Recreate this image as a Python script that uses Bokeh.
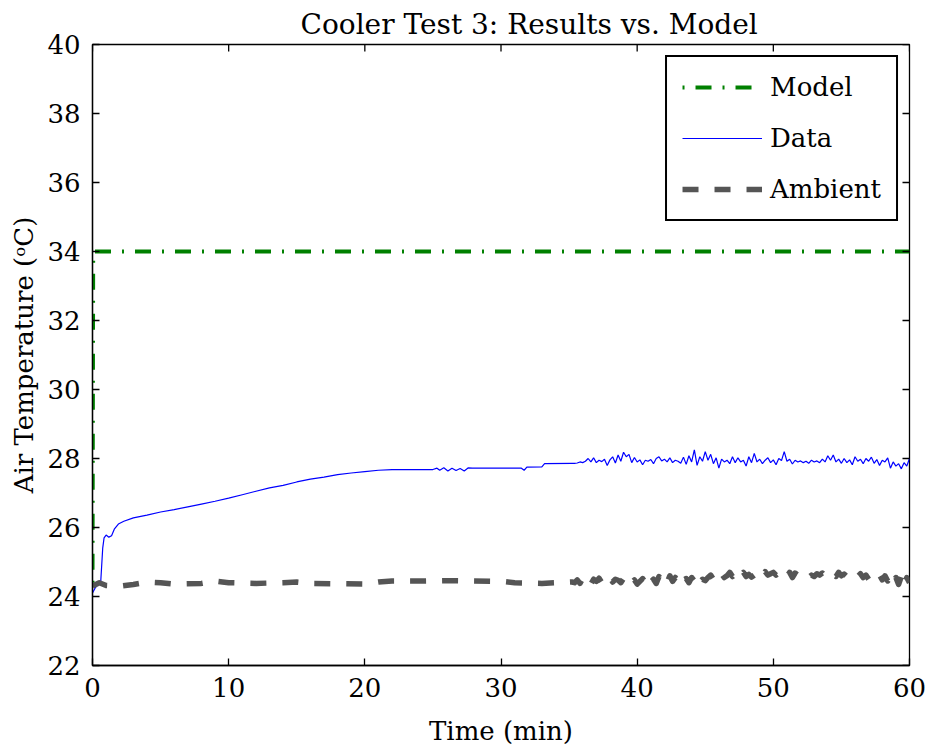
import numpy as np
from bokeh.plotting import figure
from bokeh.models import Range1d, FixedTicker, Legend, LegendItem
from bokeh.embed import file_html
from bokeh.resources import INLINE

# ---------------- data ----------------
title_text = "Cooler Test 3: Results vs. Model"
x_label = "Time (min)"
y_label = "Air Temperature (\u1d52C)"
x_ticks = [0, 10, 20, 30, 40, 50, 60]
y_ticks = [22, 24, 26, 28, 30, 32, 34, 36, 38, 40]

model_t = [0.0, 0.05, 60.0]
model_v = [24.4, 34.0, 34.0]

data_t_smooth = [0.0, 0.2, 0.4, 0.6, 0.75, 0.85, 1.0, 1.2, 1.4, 1.6, 1.9, 2.3, 3.0,
                 4.0, 5.0, 6.0, 7.0, 8.0, 9.0, 10.0, 11.0, 12.0, 13.0, 14.0, 15.0,
                 16.0, 17.0, 18.0, 19.0, 20.0, 21.0, 22.0, 25.0, 25.3, 25.5, 25.8,
                 26.1, 26.4, 26.7, 27.0, 27.3, 27.6, 27.9, 31.5, 31.7, 31.9, 33.0,
                 33.2, 35.2]
data_v_smooth = [24.10, 24.25, 24.35, 24.40, 25.40, 25.70, 25.78, 25.72, 25.76, 25.95,
                 26.10, 26.18, 26.28, 26.36, 26.45, 26.52, 26.60, 26.68, 26.76, 26.85,
                 26.95, 27.05, 27.15, 27.22, 27.32, 27.40, 27.46, 27.53, 27.58, 27.62,
                 27.66, 27.68, 27.68, 27.72, 27.66, 27.73, 27.64, 27.72, 27.65, 27.71,
                 27.64, 27.73, 27.72, 27.72, 27.66, 27.75, 27.76, 27.85, 27.86]

# noisy part sampled every 0.2 min from 35.4 to 60.0
data_v_noisy = [27.86, 27.87, 27.90, 27.88, 27.92, 28.00, 27.90, 28.02, 27.88, 27.95,
                27.91, 27.98, 27.80, 27.96, 28.05, 27.87, 28.10, 27.92, 28.18, 28.05,
                28.12, 27.88, 28.03, 27.90, 27.96, 27.82, 27.95, 27.92, 27.97, 27.85,
                28.00, 28.05, 27.93, 27.98, 27.90, 28.02, 27.88, 27.95, 27.92, 27.86,
                28.04, 27.83, 28.08, 27.90, 28.25, 27.80, 28.05, 27.92, 28.20, 27.95,
                28.12, 27.85, 28.02, 27.72, 27.98, 27.90, 27.95, 27.85, 28.05, 27.88,
                28.02, 27.90, 27.95, 27.78, 28.05, 27.88, 28.15, 27.90, 27.98, 27.85,
                27.95, 28.02, 27.88, 27.96, 27.82, 28.00, 27.94, 28.20, 27.92, 27.98,
                27.84, 27.95, 27.90, 27.93, 27.88, 27.92, 27.86, 27.95, 27.90, 27.93,
                27.88, 27.98, 27.90, 28.08, 27.95, 28.10, 27.90, 27.98, 27.86, 28.00,
                27.88, 27.96, 27.82, 28.05, 27.92, 27.98, 27.85, 28.00, 27.92, 28.04,
                27.86, 27.97, 27.80, 27.95, 27.90, 28.02, 27.72, 27.90, 27.78, 27.85,
                27.70, 27.88, 27.78, 28.00]

amb_t_smooth = [0.0, 0.5, 1.0, 2.0, 3.0, 4.0, 5.0, 6.0, 8.0, 9.0, 10.0, 12.0, 14.0,
                15.0, 16.0, 18.0, 20.0, 21.0, 22.0, 24.0, 26.0, 28.0, 30.0, 31.0,
                33.0, 35.2]
amb_v_smooth = [24.30, 24.40, 24.32, 24.30, 24.35, 24.42, 24.40, 24.36, 24.38, 24.45,
                24.40, 24.38, 24.40, 24.42, 24.38, 24.37, 24.36, 24.42, 24.45, 24.45,
                24.46, 24.45, 24.44, 24.40, 24.38, 24.42]

amb_v_noisy = [24.40, 24.48, 24.38, 24.52, 24.42, 24.47, 24.36, 24.50, 24.44, 24.53,
               24.40, 24.48, 24.45, 24.55, 24.42, 24.50, 24.47, 24.40, 24.52, 24.38,
               24.45, 24.40, 24.48, 24.36, 24.44, 24.52, 24.40, 24.56, 24.42, 24.50,
               24.38, 24.58, 24.45, 24.52, 24.40, 24.60, 24.44, 24.55, 24.42, 24.58,
               24.48, 24.52, 24.40, 24.55, 24.45, 24.60, 24.42, 24.50, 24.46, 24.55,
               24.62, 24.50, 24.58, 24.52, 24.66, 24.55, 24.60, 24.70, 24.58, 24.66,
               24.75, 24.62, 24.70, 24.58, 24.64, 24.56, 24.62, 24.58, 24.68, 24.60,
               24.72, 24.62, 24.66, 24.70, 24.62, 24.68, 24.60, 24.66, 24.58, 24.70,
               24.55, 24.68, 24.62, 24.66, 24.60, 24.64, 24.56, 24.62, 24.58, 24.66,
               24.62, 24.68, 24.60, 24.64, 24.55, 24.62, 24.58, 24.70, 24.60, 24.65,
               24.58, 24.62, 24.55, 24.63, 24.58, 24.66, 24.55, 24.62, 24.50, 24.60,
               24.52, 24.58, 24.62, 24.48, 24.60, 24.45, 24.58, 24.40, 24.55, 24.35,
               24.58, 24.32, 24.55, 24.40]

noisy_t = [round(35.4 + 0.2 * i, 1) for i in range(len(data_v_noisy))]

data_t = data_t_smooth + noisy_t
data_v = data_v_smooth + data_v_noisy
amb_t = amb_t_smooth + noisy_t
amb_v = amb_v_smooth + amb_v_noisy

# ---------------- figure ----------------
FONT = "DejaVu Serif"
FS = "26px"
X_MIN, X_MAX, Y_MIN, Y_MAX = 0, 60, 22, 40

p = figure(width=928, height=755, output_backend="svg", toolbar_location=None,
           x_range=Range1d(X_MIN, X_MAX), y_range=Range1d(Y_MIN, Y_MAX),
           min_border_left=92, min_border_right=19, min_border_top=44,
           min_border_bottom=90)
p.background_fill_color = "white"
p.border_fill_color = "white"
p.outline_line_color = "black"
p.outline_line_width = 1.3
p.grid.visible = False

p.title.text = title_text
p.title.text_font = FONT
p.title.text_font_size = "28px"
p.title.text_font_style = "normal"
p.title.text_color = "black"
p.title.align = "left"
p.title.offset = 208
p.title.standoff = 8

r_model = p.line(model_t, model_v, line_color="#008000", line_width=4,
                 line_dash="2 11 16 11")
r_data = p.line(data_t, data_v, line_color="#0000ff", line_width=1.2)
r_amb = p.line(amb_t, amb_v, line_color="#555555", line_width=5.5,
               line_dash="16 16", line_join="round")

# inward ticks on the top and right edges of the box (half of each dash is clipped)
p.dash(x=x_ticks, y=[Y_MAX] * len(x_ticks), size=14, angle=np.pi / 2,
       line_color="black", line_width=1.3)
p.dash(x=[X_MAX] * len(y_ticks), y=y_ticks, size=14, angle=0,
       line_color="black", line_width=1.3)

for ax in (p.xaxis[0], p.yaxis[0]):
    ax.major_tick_in = 7
    ax.major_tick_out = 0
    ax.minor_tick_line_color = None
    ax.axis_line_color = "black"
    ax.axis_line_width = 1.3
    ax.major_tick_line_width = 1.3
    ax.major_label_text_font = FONT
    ax.major_label_text_font_size = FS
    ax.major_label_text_color = "black"
    ax.axis_label_text_font = FONT
    ax.axis_label_text_font_size = FS
    ax.axis_label_text_font_style = "normal"
    ax.axis_label_text_color = "black"

p.xaxis[0].ticker = FixedTicker(ticks=x_ticks)
p.yaxis[0].ticker = FixedTicker(ticks=y_ticks)
p.xaxis[0].axis_label = x_label
p.yaxis[0].axis_label = y_label
p.xaxis[0].major_label_standoff = 12
p.xaxis[0].axis_label_standoff = 16
p.yaxis[0].major_label_standoff = 12
p.yaxis[0].axis_label_standoff = 5

legend = Legend(items=[LegendItem(label="Model", renderers=[r_model]),
                       LegendItem(label="Data", renderers=[r_data]),
                       LegendItem(label="Ambient", renderers=[r_amb])],
                location="top_right", margin=11, padding=15,
                glyph_width=80, glyph_height=30, label_height=30,
                label_standoff=8, spacing=21,
                label_text_font=FONT, label_text_font_size=FS,
                label_text_color="black",
                border_line_color="black", border_line_width=2,
                border_line_alpha=1.0,
                background_fill_color="white", background_fill_alpha=1.0)
p.add_layout(legend)

open("out.html", "w").write(file_html(p, INLINE))
